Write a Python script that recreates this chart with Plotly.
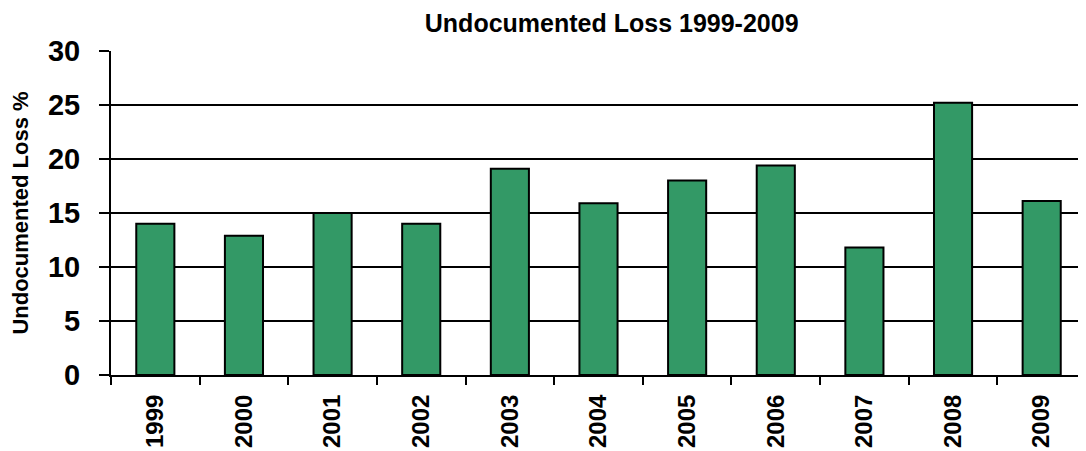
import plotly.graph_objects as go

years = ["1999", "2000", "2001", "2002", "2003", "2004", "2005", "2006", "2007", "2008", "2009"]
loss_pct = [14.0, 12.9, 15.0, 14.0, 19.1, 15.9, 18.0, 19.4, 11.8, 25.2, 16.1]
y_ticks = [0, 5, 10, 15, 20, 25, 30]

FONT = "Liberation Sans, Arial, sans-serif"

# The page body has an 8px default margin, so the figure is sized/offset to compensate.
fig = go.Figure(
    go.Bar(
        x=years,
        y=loss_pct,
        marker=dict(color="#339966", line=dict(color="black", width=2)),
    )
)

fig.update_layout(
    width=1078,
    height=443,
    margin=dict(l=103, r=0, t=43, b=76),
    paper_bgcolor="white",
    plot_bgcolor="white",
    bargap=0.57,
    showlegend=False,
    title=dict(
        text="<b>Undocumented Loss 1999-2009</b>",
        x=0.560,
        xanchor="center",
        y=0.966,
        yanchor="middle",
        font=dict(family=FONT, size=25, color="black"),
    ),
    font=dict(family=FONT, color="black"),
)

fig.update_xaxes(
    type="category",
    automargin=False,
    tickangle=-90,
    tickfont=dict(family=FONT, size=24, color="black", weight="bold"),
    showline=True,
    linecolor="black",
    linewidth=2,
    ticks="outside",
    ticklen=8,
    tickwidth=2,
    tickcolor="black",
    tickson="boundaries",
    showgrid=False,
    ticklabelstandoff=8,
)

fig.update_yaxes(
    automargin=False,
    range=[0, 30],
    tickvals=y_ticks,
    tickfont=dict(family=FONT, size=29, color="black", weight="bold"),
    showline=True,
    linecolor="black",
    linewidth=2,
    ticks="outside",
    ticklen=10,
    tickwidth=2,
    tickcolor="black",
    ticklabelstandoff=13,
    showgrid=True,
    gridcolor="black",
    gridwidth=2,
    zeroline=False,
    title=dict(
        text="<b>Undocumented Loss %</b>",
        font=dict(family=FONT, size=22, color="black"),
        standoff=21,
    ),
)

fig.write_html("out.html")
